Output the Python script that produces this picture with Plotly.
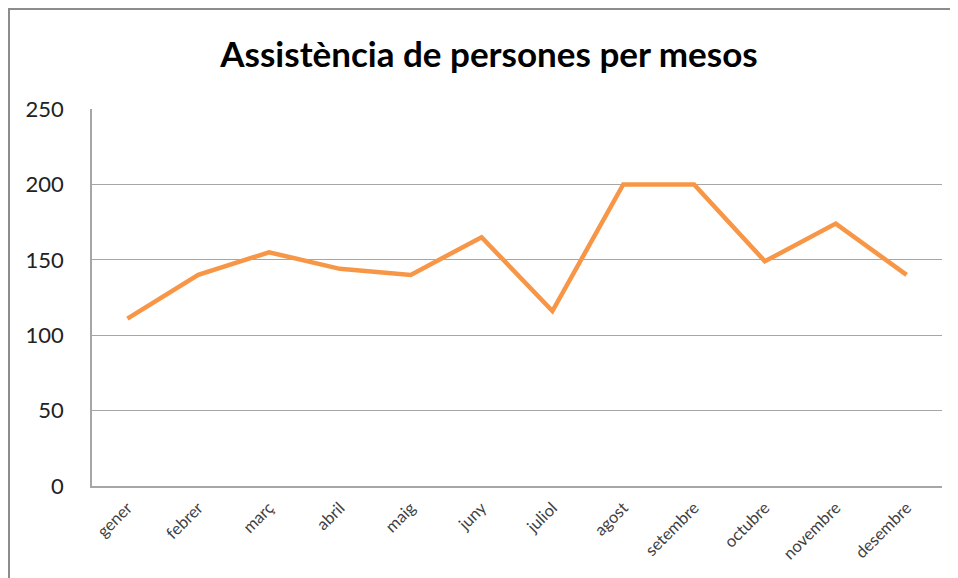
import plotly.graph_objects as go

months = ["gener", "febrer", "març", "abril", "maig", "juny", "juliol",
          "agost", "setembre", "octubre", "novembre", "desembre"]
attendance = [111, 140, 155, 144, 140, 165, 116, 200, 200, 149, 174, 140]
y_ticks = [0, 50, 100, 150, 200, 250]

W, H = 950, 570
L, R, T, B = 84, 16, 101, 92
pw, ph = W - L - R, H - T - B

fig = go.Figure()
fig.add_trace(go.Scatter(
    x=list(range(len(months))), y=attendance, mode="lines",
    line=dict(color="#F79646", width=4.5), hoverinfo="skip", showlegend=False))

fig.update_layout(
    width=W, height=H,
    margin=dict(l=L, r=R, t=T, b=B),
    paper_bgcolor="white", plot_bgcolor="white",
    title=dict(text="<b>Assistència de persones per mesos</b>",
               x=(489 - 8) / W, xanchor="center", y=1 - (55 - 8) / H, yanchor="middle",
               font=dict(family="Lato", size=35, color="#000000")),
    xaxis=dict(range=[-0.5, 11.5], tickmode="array",
               tickvals=list(range(len(months))), ticktext=months,
               tickangle=-45, tickfont=dict(family="Lato", size=16.5, color="#404040"),
               showgrid=False, showline=True, linecolor="#A6A6A6", linewidth=1.5,
               ticks="", zeroline=False, ticklabelstandoff=4),
    yaxis=dict(range=[0, 250], tickmode="array", tickvals=y_ticks,
               tickfont=dict(family="Lato", size=22, color="#222222"),
               showgrid=True, gridcolor="#A6A6A6", gridwidth=1.2,
               showline=True, linecolor="#A6A6A6", linewidth=1.5,
               ticks="", ticklen=0, zeroline=False, ticklabelstandoff=22),
    shapes=[dict(type="rect", xref="paper", yref="paper",
                 x0=(1 - L) / pw, x1=1.2, y0=-0.5, y1=(H - B - 1) / ph,
                 line=dict(color="#8C8C8C", width=2), fillcolor="rgba(0,0,0,0)",
                 layer="below")],
)
fig.write_html("out.html")
